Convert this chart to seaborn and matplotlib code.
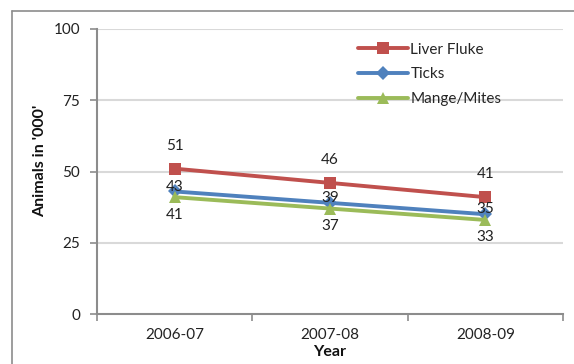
import matplotlib
matplotlib.use("Agg")
import matplotlib.pyplot as plt
import seaborn as sns
import pandas as pd
from matplotlib.lines import Line2D

years = ["2006-07", "2007-08", "2008-09"]
liver_fluke = [51, 46, 41]
ticks = [43, 39, 35]
mange_mites = [41, 37, 33]
series_names = ["Liver Fluke", "Ticks", "Mange/Mites"]
y_ticks = [0, 25, 50, 75, 100]

sns.set_theme(style="white")
plt.rcParams["font.family"] = ["Lato", "DejaVu Sans"]

rows = []
for name, vals in zip(series_names, [liver_fluke, ticks, mange_mites]):
    for yr, v in zip(years, vals):
        rows.append({"Year": yr, "Value": v, "Series": name})
df = pd.DataFrame(rows)

colors = {"Liver Fluke": "#C0504D", "Ticks": "#4F81BD", "Mange/Mites": "#9BBB59"}
markers = {"Liver Fluke": "s", "Ticks": "D", "Mange/Mites": "^"}
msize = {"Liver Fluke": 8.5, "Ticks": 7, "Mange/Mites": 8.5}
LW = 2.8
FS = 11

fig = plt.figure(figsize=(5.74, 3.64), dpi=100)
ax = fig.add_axes([97/574, 1-314/364, (563-97)/574, (314-29)/364])

sns.lineplot(data=df, x="Year", y="Value", hue="Series", style="Series",
             palette=colors, markers=markers, dashes=False, linewidth=LW,
             markersize=8, markeredgewidth=0, ax=ax, legend=False, sort=False)
for line, name in zip(ax.lines, series_names):
    line.set_markersize(msize[name])

ax.set_ylim(0, 100)
ax.set_xlim(-0.5, 2.5)
ax.set_yticks(y_ticks)
ax.set_yticklabels([str(t) for t in y_ticks], fontsize=FS, color="#222222")
ax.set_xticks(range(len(years)))
ax.set_xticklabels(years, fontsize=FS, color="#222222")
ax.tick_params(axis="x", length=0, pad=10)
ax.tick_params(axis="y", length=5, width=1.2, color="#8c8c8c", direction="out", pad=7, left=True)
ax.set_xticks([-0.5, 0.5, 1.5, 2.5], minor=True)
ax.tick_params(axis="x", which="minor", length=5, width=1.2, color="#8c8c8c", direction="out", bottom=True)

for t in y_ticks[1:]:
    ax.axhline(t, color="#d9d9d9", linewidth=1.5, zorder=0)

for s in ["top", "right"]:
    ax.spines[s].set_visible(False)
for s in ["left", "bottom"]:
    ax.spines[s].set_color("#8c8c8c")
    ax.spines[s].set_linewidth(1.5)

ax.set_ylabel("Animals in '000'", fontsize=11.5, fontweight="bold", color="#111111")
ax.yaxis.set_label_coords(-0.108, 0.537)
ax.set_xlabel("Year", fontsize=11.5, fontweight="bold", color="#111111")
ax.xaxis.set_label_coords(0.5, -0.11)

offsets = {"Liver Fluke": 16.5, "Ticks": 3.5, "Mange/Mites": -12.5}
for name, vals in zip(series_names, [liver_fluke, ticks, mange_mites]):
    for i, v in enumerate(vals):
        ax.annotate(str(v), (i, v), xytext=(0, offsets[name]), textcoords="offset points",
                    ha="center", va="center", fontsize=FS, color="#222222")

handles = [Line2D([0], [0], color=colors[n], marker=markers[n], linewidth=LW,
                  markersize=msize[n], markeredgewidth=0) for n in series_names]
leg = ax.legend(handles, series_names, loc="upper left", bbox_to_anchor=(0.53, 1.0),
                frameon=False, fontsize=FS, handlelength=3.3, handletextpad=0.15,
                labelspacing=0.7)

# outer chart border (partially visible)
fig.add_artist(Line2D([12/574, 1], [1-11/364, 1-11/364], color="#8c8c8c", linewidth=1.2))
fig.add_artist(Line2D([12/574, 12/574], [0, 1-11/364], color="#8c8c8c", linewidth=1.2))

fig.savefig("out.png", dpi=100)
